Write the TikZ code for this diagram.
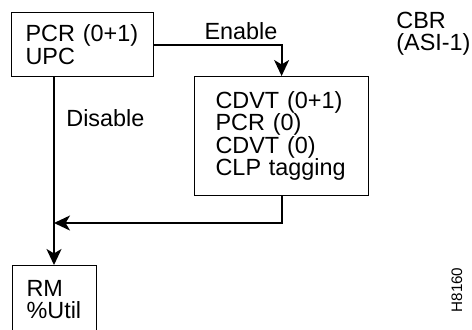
\documentclass[tikz,border=0pt]{standalone}
\usepackage{fontspec}
\setmainfont{Liberation Sans}
\usepackage{tikz}
\usetikzlibrary{arrows.meta,positioning,calc}

\begin{document}
\begin{tikzpicture}[
      x=0.5pt, y=-0.5pt,
      arr/.style={-{Stealth[length=8pt,width=7.5pt,inset=2.2pt]}, line width=0.9pt},
      parambox/.style={draw, line width=0.6pt, anchor=north west, align=left,
                       inner ysep=0pt, font=\fontsize{11.7}{11.2}\selectfont},
      lbl/.style={font=\fontsize{11.7}{11}\selectfont, inner sep=0pt, align=left}
    ]
    \clip (0,0) rectangle (472,329);
    \node[parambox, inner xsep=7pt, text width=57pt, minimum height=32pt] (pcr) at (11,12) {%
      PCR (0+1)\\
      UPC};
    \node[parambox, inner xsep=10.5pt, text width=66pt, minimum height=59.5pt] (cdvt) at (194,76) {%
      CDVT (0+1)\\
      PCR (0)\\
      CDVT (0)\\
      CLP tagging};
    \node[parambox, inner xsep=7pt, text width=28pt, minimum height=34pt] (rm) at (12,265) {%
      RM\\
      \%Util};
    \coordinate (join) at (54,223);
    \draw[arr] (pcr.east) -| (cdvt.north);
    \draw[arr] ([xshift=21.5pt]pcr.south west) -- ([xshift=21pt]rm.north west);
    \draw[arr] (cdvt.south) |- (join);
    \node[lbl] (enable) at (241,31) {Enable};
    \node[lbl, anchor=west] (disable) at (66,118) {Disable};
    \node[lbl, anchor=north west] (cbr) at (396,12) {CBR\\(ASI-1)};
    \node[rotate=90, inner sep=0pt, font=\fontsize{7.6}{9}\selectfont] (fig) at (457,290) {H8160};
  \end{tikzpicture}
\end{document}
